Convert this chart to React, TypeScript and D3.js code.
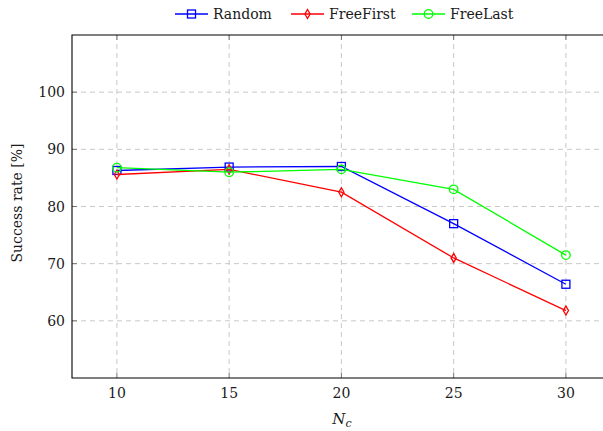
import React, { useEffect, useRef } from "react";
import * as d3 from "d3";

// N_c values on the x axis
const nc = [10, 15, 20, 25, 30];
const random = [86.3, 86.9, 87.0, 77.0, 66.4];
const freeFirst = [85.6, 86.5, 82.5, 71.0, 61.8];
const freeLast = [86.8, 86.0, 86.5, 83.0, 71.5];
const yTicks = [60, 70, 80, 90, 100];

const seriesNames = ["Random", "FreeFirst", "FreeLast"];
const seriesColors = ["#0000ff", "#ff0000", "#00ff00"];
const seriesMarks = ["square", "diamond", "circle"];

const WIDTH = 603;
const HEIGHT = 431;
const FONT = "DejaVu Serif";

const App: React.FC = () => {
  const svgRef = useRef<SVGSVGElement | null>(null);

  useEffect(() => {
    const margin = { top: 35, left: 72, bottom: 378 };
    const svg = d3.select(svgRef.current);
    svg.selectAll("*").remove();

    const x = d3.scaleLinear().domain([8, 32]).range([margin.left, 610.8]);
    const y = d3.scaleLinear().domain([50, 110]).range([margin.bottom, margin.top]);

    const seriesValues = [random, freeFirst, freeLast];

    // grid
    const grid = svg.append("g").attr("stroke", "#c8c8c8").attr("stroke-width", 1)
      .attr("stroke-dasharray", "5,4");
    grid.selectAll(".vg").data(nc).join("line")
      .attr("x1", (d) => x(d)).attr("x2", (d) => x(d))
      .attr("y1", margin.top).attr("y2", margin.bottom);
    grid.selectAll(".hg").data(yTicks).join("line")
      .attr("x1", margin.left).attr("x2", WIDTH)
      .attr("y1", (d) => y(d)).attr("y2", (d) => y(d));

    // small inner ticks
    const ticks = svg.append("g").attr("stroke", "#777").attr("stroke-width", 1);
    nc.forEach((v) => {
      ticks.append("line").attr("x1", x(v)).attr("x2", x(v))
        .attr("y1", margin.bottom).attr("y2", margin.bottom - 5);
      ticks.append("line").attr("x1", x(v)).attr("x2", x(v))
        .attr("y1", margin.top).attr("y2", margin.top + 5);
    });
    yTicks.forEach((v) => {
      ticks.append("line").attr("x1", margin.left).attr("x2", margin.left + 5)
        .attr("y1", y(v)).attr("y2", y(v));
    });

    // frame (right side clipped off the page)
    svg.append("path")
      .attr("d", `M${WIDTH + 5},${margin.top}H${margin.left}V${margin.bottom}H${WIDTH + 5}`)
      .attr("fill", "none").attr("stroke", "#000").attr("stroke-width", 1.1);

    const label = (sel: d3.Selection<any, any, any, any>, size: number) =>
      sel.attr("font-family", FONT).attr("font-size", size).attr("fill", "#1a1a1a");

    // tick labels
    label(svg.append("g").selectAll("text").data(nc).join("text")
      .attr("x", (d) => x(d)).attr("y", 398)
      .attr("text-anchor", "middle"), 14)
      .text((d) => d);
    label(svg.append("g").selectAll("text").data(yTicks).join("text")
      .attr("x", 65).attr("y", (d) => y(d) + 5)
      .attr("text-anchor", "end"), 14)
      .text((d) => d);

    // axis labels
    const xl = label(svg.append("text").attr("x", 342).attr("y", 424)
      .attr("text-anchor", "middle").attr("font-style", "italic"), 15);
    xl.append("tspan").text("N");
    xl.append("tspan").attr("font-size", 11).attr("dy", 3).text("c");

    label(svg.append("text")
      .attr("transform", `translate(22,203) rotate(-90)`)
      .attr("text-anchor", "middle"), 14)
      .text("Success rate [%]");

    const drawMark = (g: d3.Selection<SVGGElement, unknown, null, undefined>,
      kind: string, cx: number, cy: number, color: string) => {
      if (kind === "square") {
        g.append("rect").attr("x", cx - 4).attr("y", cy - 4).attr("width", 8).attr("height", 8)
          .attr("fill", "none").attr("stroke", color).attr("stroke-width", 1.3);
      } else if (kind === "circle") {
        g.append("circle").attr("cx", cx).attr("cy", cy).attr("r", 4.3)
          .attr("fill", "none").attr("stroke", color).attr("stroke-width", 1.3);
      } else {
        g.append("path").attr("d", `M${cx},${cy - 4.5}L${cx + 2.6},${cy}L${cx},${cy + 4.5}L${cx - 2.6},${cy}Z`)
          .attr("fill", "none").attr("stroke", color).attr("stroke-width", 1.3);
      }
    };

    const line = d3.line<number>().x((_, i) => x(nc[i])).y((d) => y(d));
    seriesValues.forEach((vals, si) => {
      const g = svg.append("g");
      g.append("path").attr("d", line(vals)).attr("fill", "none")
        .attr("stroke", seriesColors[si]).attr("stroke-width", 1.3);
      vals.forEach((v, i) => drawMark(g, seriesMarks[si], x(nc[i]), y(v), seriesColors[si]));
    });

    // legend
    const legendX = [175, 291, 412];
    seriesNames.forEach((name, si) => {
      const g = svg.append("g");
      g.append("line").attr("x1", legendX[si]).attr("x2", legendX[si] + 33)
        .attr("y1", 14).attr("y2", 14).attr("stroke", seriesColors[si]).attr("stroke-width", 1.3);
      drawMark(g, seriesMarks[si], legendX[si] + 16.5, 14, seriesColors[si]);
      label(g.append("text").attr("x", legendX[si] + 38).attr("y", 19), 14).text(name);
    });
  }, []);

  return (
    <svg
      ref={svgRef}
      width={WIDTH}
      height={HEIGHT}
      style={{ position: "absolute", left: 0, top: 0, background: "#fff" }}
    />
  );
};

export default App;
